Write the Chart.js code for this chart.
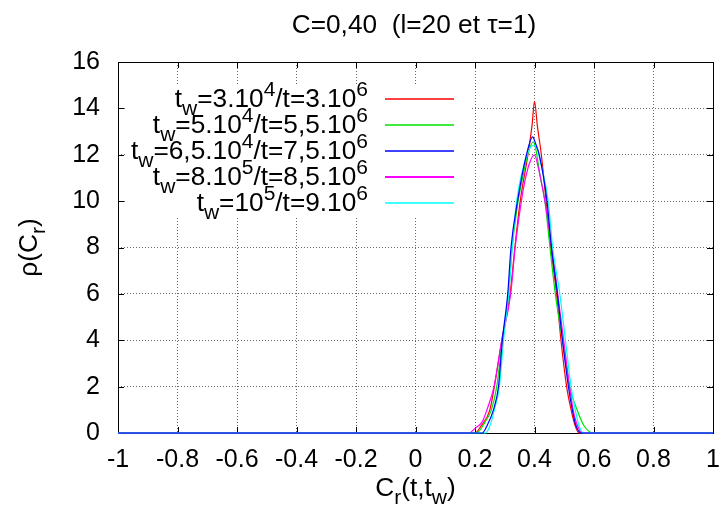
<!DOCTYPE html>
<html>
<head>
<meta charset="utf-8">
<script src="https://cdn.jsdelivr.net/npm/chart.js@4/dist/chart.umd.min.js"></script>
<style>
  html, body { margin: 0; padding: 0; background: #fff; }
  #c { display: block; }
</style>
</head>
<body>
<canvas id="c" width="723" height="518"></canvas>
<script>
// ---- Data ----
const xTickValues = [-1, -0.8, -0.6, -0.4, -0.2, 0, 0.2, 0.4, 0.6, 0.8, 1];
const xTickLabels = ['-1', '-0.8', '-0.6', '-0.4', '-0.2', '0', '0.2', '0.4', '0.6', '0.8', '1'];
const yTickValues = [0, 2, 4, 6, 8, 10, 12, 14, 16];
const yTickLabels = ['0', '2', '4', '6', '8', '10', '12', '14', '16'];

const seriesColors = ['#ff0000', '#00e000', '#0000ff', '#ff00ff', '#00ffff'];
const seriesOrder = [4, 3, 0, 2, 1];

// t_w=3.10^4 / t=3.10^6
const crA  = [-1, 0.20, 0.22, 0.25, 0.265, 0.29, 0.318, 0.334, 0.352, 0.378, 0.392, 0.400, 0.410, 0.423, 0.439, 0.455, 0.474, 0.489, 0.508, 0.523, 0.537, 0.55, 1];
const rhoA = [0, 0, 0.3, 1, 2, 4, 6, 8, 10, 12, 13.3, 14.3, 13.2, 12, 10, 8, 6, 4, 2, 1, 0.3, 0, 0];
// t_w=5.10^4 / t=5,5.10^6
const crB  = [-1, 0.205, 0.235, 0.255, 0.273, 0.292, 0.313, 0.325, 0.345, 0.36, 0.377, 0.396, 0.405, 0.42, 0.435, 0.452, 0.470, 0.494, 0.518, 0.543, 0.567, 0.598, 1];
const rhoB = [0, 0, 0.5, 1, 2, 4, 6, 8, 10, 11, 12, 12.56, 12.2, 11, 10, 8, 6, 4, 2, 1, 0.3, 0, 0];
// t_w=6,5.10^4 / t=7,5.10^6
const crC  = [-1, 0.225, 0.24, 0.262, 0.279, 0.292, 0.310, 0.321, 0.343, 0.373, 0.394, 0.403, 0.416, 0.442, 0.457, 0.477, 0.494, 0.514, 0.527, 0.54, 0.558, 1];
const rhoC = [0, 0, 0.3, 1, 2, 4, 6, 8, 10, 12, 12.77, 12.5, 12, 10, 8, 6, 4, 2, 1, 0.3, 0, 0];
// t_w=8.10^5 / t=8,5.10^6
const crD  = [-1, 0.18, 0.20, 0.225, 0.24, 0.264, 0.29, 0.32, 0.335, 0.356, 0.37, 0.385, 0.40, 0.41, 0.435, 0.458, 0.478, 0.498, 0.518, 0.53, 0.545, 0.563, 1];
const rhoD = [0, 0, 0.2, 0.5, 1, 2, 4, 6, 8, 10, 11, 11.7, 12.0, 11.6, 10, 8, 6, 4, 2, 1, 0.3, 0, 0];
// t_w=10^5 / t=9.10^6
const crE  = [-1, 0.235, 0.25, 0.265, 0.282, 0.296, 0.313, 0.325, 0.340, 0.375, 0.395, 0.41, 0.418, 0.446, 0.461, 0.485, 0.504, 0.523, 0.537, 0.55, 0.565, 1];
const rhoE = [0, 0, 0.3, 1, 2, 4, 6, 8, 10, 12, 12.4, 12.2, 11.8, 10, 8, 6, 4, 2, 1, 0.3, 0, 0];

// legend labels as rich-text segments (n = normal, b = subscript, p = superscript)
const legendLabels = [
  [['n','t'],['b','w'],['n','=3.10'],['p','4'],['n','/t=3.10'],['p','6']],
  [['n','t'],['b','w'],['n','=5.10'],['p','4'],['n','/t=5,5.10'],['p','6']],
  [['n','t'],['b','w'],['n','=6,5.10'],['p','4'],['n','/t=7,5.10'],['p','6']],
  [['n','t'],['b','w'],['n','=8.10'],['p','5'],['n','/t=8,5.10'],['p','6']],
  [['n','t'],['b','w'],['n','=10'],['p','5'],['n','/t=9.10'],['p','6']]
];
const titleText = 'C=0,40  (l=20 et \u03C4=1)';
const xTitle = [['n','C'],['b','r'],['n','(t,t'],['b','w'],['n',')']];
const yTitle = [['n','\u03C1(C'],['b','r'],['n',')']];

const FONT = 'Liberation Sans, Arial, sans-serif';
const FS = 25;
const STRETCH = 1.05;

function toPts(xs, ys) { return xs.map((x, i) => ({ x: x, y: ys[i] })); }
const seriesX = [crA, crB, crC, crD, crE];
const seriesY = [rhoA, rhoB, rhoC, rhoD, rhoE];

const datasets = seriesX.map((xs, k) => ({
  label: 'series' + k,
  data: toPts(xs, seriesY[k]),
  showLine: true,
  borderColor: seriesColors[k],
  backgroundColor: seriesColors[k],
  borderWidth: 1.2,
  pointRadius: 0,
  fill: false,
  order: seriesOrder[k],
  cubicInterpolationMode: 'monotone',
  clip: 3
}));

function richWidth(ctx, segs, size) {
  let w = 0;
  segs.forEach(s => {
    ctx.font = (s[0] === 'n' ? size : Math.round(size * 0.8)) + 'px ' + FONT;
    w += ctx.measureText(s[1]).width;
  });
  return w * STRETCH;
}
// draws rich text with left edge at x (already-stretched coordinates)
function drawRich(ctx, segs, x, y, size) {
  ctx.save();
  ctx.translate(x, y);
  ctx.scale(STRETCH, 1);
  let cx = 0;
  ctx.textAlign = 'left';
  ctx.textBaseline = 'alphabetic';
  segs.forEach(s => {
    let dy = 0, sz = size;
    if (s[0] === 'b') { sz = Math.round(size * 0.8); dy = size * 0.3; }
    if (s[0] === 'p') { sz = Math.round(size * 0.8); dy = -size * 0.45; }
    ctx.font = sz + 'px ' + FONT;
    ctx.fillText(s[1], cx, dy);
    cx += ctx.measureText(s[1]).width;
  });
  ctx.restore();
}

const decorPlugin = {
  id: 'decor',
  beforeDatasetsDraw(chart) {
    const ctx = chart.ctx;
    const a = chart.chartArea;
    const xs = chart.scales.x, ys = chart.scales.y;
    ctx.save();
    ctx.setLineDash([]);
    // legend background box hides grid
    ctx.fillStyle = '#fff';
    ctx.fillRect(a.left + 7, 85, 470 - (a.left + 7), 216 - 85);
    // frame
    ctx.strokeStyle = '#000';
    ctx.lineWidth = 1;
    ctx.strokeRect(Math.round(a.left) + 0.5, Math.round(a.top) + 0.5, Math.round(a.right - a.left), Math.round(a.bottom - a.top));
    // inward ticks (mirror on all sides)
    ctx.beginPath();
    xTickValues.forEach(v => {
      const px = Math.round(xs.getPixelForValue(v)) + 0.5;
      ctx.moveTo(px, a.bottom); ctx.lineTo(px, a.bottom - 6);
      ctx.moveTo(px, a.top); ctx.lineTo(px, a.top + 6);
    });
    yTickValues.forEach(v => {
      const py = Math.round(ys.getPixelForValue(v)) + 0.5;
      ctx.moveTo(a.left, py); ctx.lineTo(a.left + 6, py);
      ctx.moveTo(a.right, py); ctx.lineTo(a.right - 6, py);
    });
    ctx.stroke();
    ctx.restore();
  },
  afterDatasetsDraw(chart) {
    const ctx = chart.ctx;
    const a = chart.chartArea;
    ctx.save();
    ctx.setLineDash([]);
    // legend
    const rightX = 368;
    legendLabels.forEach((segs, i) => {
      const ly = 99 + i * 26;
      const w = richWidth(ctx, segs, FS);
      ctx.fillStyle = '#000';
      drawRich(ctx, segs, rightX - w, ly + 8, FS);
      ctx.strokeStyle = seriesColors[i];
      ctx.lineWidth = i === 3 ? 2.2 : 1.5;
      ctx.beginPath();
      ctx.moveTo(385, ly); ctx.lineTo(454, ly);
      ctx.stroke();
    });
    // title
    ctx.fillStyle = '#000';
    const tw = richWidth(ctx, [['n', titleText]], FS);
    drawRich(ctx, [['n', titleText]], 414 - tw / 2, 33, FS);
    // x title
    const xw = richWidth(ctx, xTitle, FS);
    drawRich(ctx, xTitle, (a.left + a.right) / 2 - xw / 2, 496, FS);
    // y title (rotated)
    ctx.save();
    ctx.translate(37, (a.top + a.bottom) / 2);
    ctx.rotate(-Math.PI / 2);
    const yw = richWidth(ctx, yTitle, FS);
    drawRich(ctx, yTitle, -yw / 2, 0, FS);
    ctx.restore();
    ctx.restore();
  }
};

new Chart(document.getElementById('c'), {
  type: 'scatter',
  data: { datasets: datasets },
  plugins: [decorPlugin],
  options: {
    responsive: false,
    animation: false,
    events: [],
    layout: { padding: { top: 62, right: 10, left: 0, bottom: 0 } },
    plugins: { legend: { display: false }, title: { display: false }, tooltip: { enabled: false } },
    scales: {
      x: {
        type: 'linear', min: -1, max: 1,
        afterBuildTicks: s => { s.ticks = xTickValues.map(v => ({ value: v })); },
        ticks: {
          color: '#000', padding: 12, maxRotation: 0, autoSkip: false,
          font: { family: FONT, size: FS },
          callback: (v, i) => xTickLabels[i]
        },
        grid: { color: 'rgba(0,0,0,0.6)', lineWidth: 1, drawTicks: false },
        border: { display: false, dash: [1, 2] },
        afterFit: s => { s.height = 85; s.paddingLeft = 0; s.paddingRight = 0; }
      },
      y: {
        type: 'linear', min: 0, max: 16,
        afterBuildTicks: s => { s.ticks = yTickValues.map(v => ({ value: v })); },
        ticks: {
          color: '#000', padding: 18, autoSkip: false,
          font: { family: FONT, size: FS },
          callback: (v, i) => yTickLabels[i]
        },
        grid: { color: 'rgba(0,0,0,0.6)', lineWidth: 1, drawTicks: false },
        border: { display: false, dash: [1, 2] },
        afterFit: s => { s.width = 118; s.paddingTop = 0; s.paddingBottom = 0; }
      }
    }
  }
});
</script>
</body>
</html>
